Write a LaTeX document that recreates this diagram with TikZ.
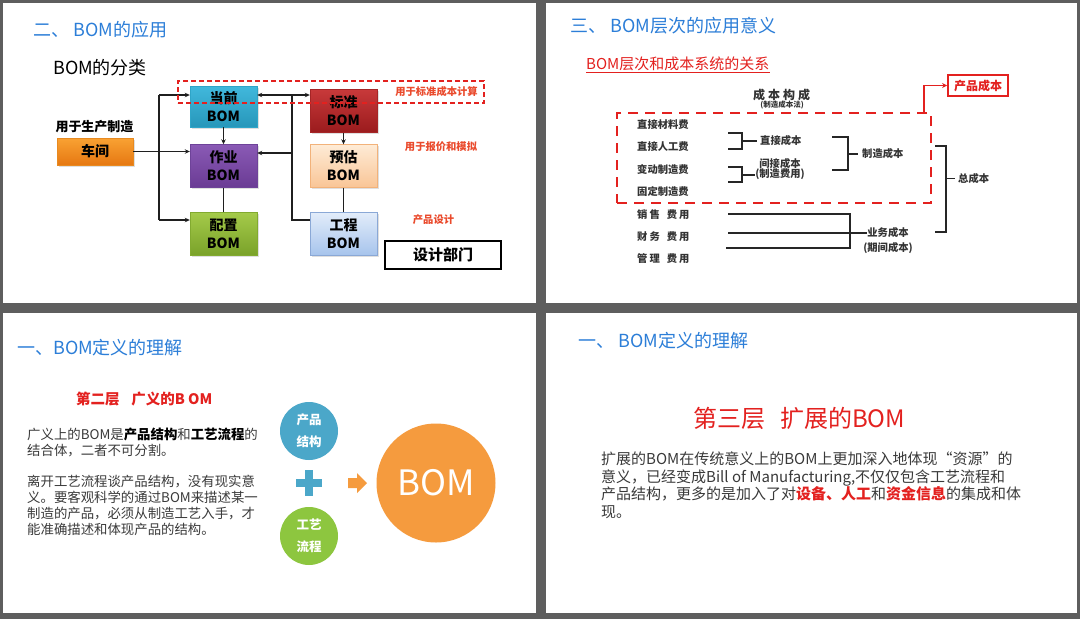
\documentclass[tikz,border=0pt]{standalone}
\usepackage{fontspec}
\setmainfont{Noto Sans CJK SC}
\usetikzlibrary{arrows.meta,shadows}
\newcommand\myfs[2]{\fontsize{#1}{#2}\selectfont}
\definecolor{bggray}{HTML}{5E5E5E}
\definecolor{titleblue}{HTML}{2C7ED8}
\definecolor{lblred}{HTML}{EA4A2C}
\definecolor{cred}{HTML}{E3211F}
\definecolor{txtgray}{HTML}{333333}
\definecolor{paragray}{HTML}{3A3A3A}
\definecolor{dqTop}{HTML}{41B8DC}\definecolor{dqBot}{HTML}{2797BA}\definecolor{dqBd}{HTML}{2FA5C8}
\definecolor{bzTop}{HTML}{C8393A}\definecolor{bzBot}{HTML}{9A1B1D}\definecolor{bzBd}{HTML}{A52526}
\definecolor{zyTop}{HTML}{8A5AB5}\definecolor{zyBot}{HTML}{6A3B94}\definecolor{zyBd}{HTML}{6E4399}
\definecolor{ygTop}{HTML}{FEEBD6}\definecolor{ygBot}{HTML}{F9C596}\definecolor{ygBd}{HTML}{F2B27A}
\definecolor{pzTop}{HTML}{A5CB4A}\definecolor{pzBot}{HTML}{7AA22A}\definecolor{pzBd}{HTML}{82AA30}
\definecolor{gcTop}{HTML}{E3EDFA}\definecolor{gcBot}{HTML}{A7C4EC}\definecolor{gcBd}{HTML}{8AA8D6}
\definecolor{cjTop}{HTML}{F9A233}\definecolor{cjBot}{HTML}{E67812}\definecolor{cjBd}{HTML}{E88A20}
\definecolor{cblue}{HTML}{4BA7C9}
\definecolor{cgreen}{HTML}{8DC63F}
\definecolor{corange}{HTML}{F59B3E}
\begin{document}
\begin{tikzpicture}[x=1pt,y=-1pt,
  slidetitle/.style={anchor=west,inner sep=0pt,text=titleblue,font=\myfs{18}{20}},
  bombox/.style={minimum width=67pt,minimum height=43pt,inner sep=0pt,align=center,
    font=\bfseries\myfs{14}{18},text=black,
    drop shadow={shadow xshift=1.5pt,shadow yshift=-1.5pt,opacity=0.25}},
  conn/.style={draw=black!88,line width=1.3pt},
  arr/.style={conn,-{Stealth[length=5pt,width=4.5pt]}},
  redlbl/.style={inner sep=0pt,text=lblred,font=\bfseries\myfs{10.3}{12}},
  cost/.style={inner sep=0pt,text=txtgray,font=\bfseries\myfs{10.3}{12}},
  brk/.style={draw=black!85,line width=1.2pt},
  para/.style={anchor=north west,inner sep=0pt,align=left,text=paragray},
]
\useasboundingbox (0,0) rectangle (1080,619);
\fill[bggray] (0,0) rectangle (1080,619);
\fill[white] (3,3) rectangle (536,303);
\fill[white] (546,3) rectangle (1077,303);
\fill[white] (3,313) rectangle (536,613);
\fill[white] (546,313) rectangle (1077,613);

% ---------------- slide 1 ----------------
\node[slidetitle] (t1) at (33,30) {二、 BOM的应用};
\node[anchor=west,inner sep=0pt,font=\myfs{18}{20}] (fl) at (53,68) {BOM的分类};

\node[bombox,minimum height=41pt,top color=dqTop,bottom color=dqBot,draw=dqBd] (dq) at (223.5,106.5) {当前\\BOM};
\node[bombox,top color=bzTop,bottom color=bzBot,draw=bzBd] (bz) at (343.5,111) {标准\\BOM};
\node[bombox,top color=zyTop,bottom color=zyBot,draw=zyBd] (zy) at (223.5,166) {作业\\BOM};
\node[bombox,top color=ygTop,bottom color=ygBot,draw=ygBd] (yg) at (343.5,166) {预估\\BOM};
\node[bombox,top color=pzTop,bottom color=pzBot,draw=pzBd] (pz) at (223.5,233.5) {配置\\BOM};
\node[bombox,top color=gcTop,bottom color=gcBot,draw=gcBd] (gc) at (343.5,233.5) {工程\\BOM};
\node[bombox,minimum width=76pt,minimum height=27pt,top color=cjTop,bottom color=cjBot,draw=cjBd] (cj) at (95,151.5) {车间};
\node[inner sep=0pt,font=\bfseries\myfs{13}{15}] (sc) at (94.5,127) {用于生产制造};

\coordinate (lb1) at (159,95);
\coordinate (lb2) at (159,220);
\coordinate (rb1) at (292,95);
\coordinate (rb2) at (292,220);
\coordinate (rb3) at (292,153);
\draw[conn] (lb1) -- (lb2);
\draw[arr] (lb1) -- (lb1 -| dq.west);
\draw[arr] (lb2) -- (lb2 -| pz.west);
\draw[arr] (cj.east) -- (cj.east -| zy.west);
\draw[arr] (dq.south) -- (zy.north);
\draw[conn] (zy.south) -- (pz.north);
\draw[conn] (rb1) -- (rb2) -- (rb2 -| gc.west);
\draw[arr] (rb1) -- (rb1 -| dq.east);
\draw[arr] (rb1) -- (rb1 -| bz.west);
\draw[arr] (rb3) -- (rb3 -| zy.east);
\draw[arr] (bz.south) -- (yg.north);
\draw[conn] (yg.south) -- (gc.north);

\node[draw=cred,line width=1.5pt,dash pattern=on 5pt off 3pt,minimum width=306pt,minimum height=22pt,inner sep=0pt] (stdbox) at (331,92) {};
\node[redlbl] (l1) at (436.5,92) {用于标准成本计算};
\node[redlbl] (l2) at (441,147) {用于报价和模拟};
\node[redlbl] (l3) at (433.5,220) {产品设计};
\node[draw=black,line width=2pt,minimum width=116pt,minimum height=28pt,inner sep=0pt,font=\bfseries\myfs{15}{17}] (sj) at (443,255) {设计部门};

% ---------------- slide 2 ----------------
\node[slidetitle] (t2) at (570,26) {三、 BOM层次的应用意义};
\node[anchor=west,inner sep=0pt,text=cred,font=\myfs{15}{17}] (rel) at (586,64) {BOM层次和成本系统的关系};
\draw[cred,line width=0.8pt] ([yshift=-1.5pt]rel.south west) -- ([yshift=-1.5pt]rel.south east);
\node[inner sep=0pt,text=txtgray,font=\bfseries\myfs{12}{14}] (cbgc) at (781.5,95) {成\hspace{3pt}本\hspace{3pt}构\hspace{3pt}成};
\node[inner sep=0pt,text=txtgray,font=\bfseries\myfs{7.5}{9}] (fa) at (782,104.5) {(制造成本法)};

\node[draw=cred,line width=2.6pt,dash pattern=on 10pt off 7pt,minimum width=314pt,minimum height=90pt,inner sep=0pt] (mfg) at (774,158) {};
\node[draw=cred,line width=1.8pt,minimum width=60pt,minimum height=21pt,inner sep=0pt,text=cred,font=\bfseries\myfs{12}{14}] (cp) at (978,85.5) {产品成本};
\draw[cred,line width=1.8pt,-{Stealth[length=5pt,width=5pt]}] (mfg.north east) ++(-8,0) |- (cp.west);

\node[cost,anchor=west] (c1) at (637,125) {直接材料费};
\node[cost,anchor=west] (c2) at (637,147) {直接人工费};
\node[cost,anchor=west] (c3) at (637,170) {变动制造费};
\node[cost,anchor=west] (c4) at (637,192) {固定制造费};
\node[cost,anchor=west] (c5) at (637,215) {销\hspace{2pt}售\hspace{7pt}费\hspace{2pt}用};
\node[cost,anchor=west] (c6) at (637,237) {财\hspace{2pt}务\hspace{7pt}费\hspace{2pt}用};
\node[cost,anchor=west] (c7) at (637,259) {管\hspace{2pt}理\hspace{7pt}费\hspace{2pt}用};

\node[cost,anchor=west,inner xsep=3pt] (zjcb) at (757,141) {直接成本};
\node[cost,align=center,font=\bfseries\myfs{10.3}{10}] (jjcb) at (780,169) {间接成本\\(制造费用)};
\node[cost,anchor=west,inner xsep=4pt] (zzcb) at (858,154) {制造成本};
\node[cost,anchor=west,inner xsep=3pt] (zcb) at (955,178.5) {总成本};
\node[cost] (yw1) at (888,233) {业务成本};
\node[cost] (yw2) at (888,248) {(期间成本)};

\coordinate (k1) at (742,141);
\coordinate (k2) at (742,175);
\coordinate (k3) at (848,154);
\coordinate (k4) at (946,178.5);
\draw[brk] (728,133) -- (742,133) -- (742,149) -- (728,149);
\draw[brk] (k1) -- (zjcb.west);
\draw[brk] (728,167) -- (742,167) -- (742,182) -- (728,182);
\draw[brk] (k2) -- (k2 -| jjcb.west);
\draw[brk] (832,137) -- (848,137) -- (848,170) -- (832,170);
\draw[brk] (k3) -- (zzcb.west);
\draw[brk] (935,146) -- (946,146) -- (946,232) -- (935,232);
\draw[brk] (k4) -- (zcb.west);

\coordinate (s1) at (728,214);
\coordinate (s2) at (728,233);
\coordinate (s3) at (726,248);
\coordinate (v1) at (850,214);
\coordinate (v3) at (850,248);
\draw[brk] (s1) -- (v1) -- (v3) -- (s3);
\draw[brk] (s2) -- (yw1.west);

% ---------------- slide 3 ----------------
\node[slidetitle] (t3) at (17,348) {一、BOM定义的理解};
\node[anchor=west,inner sep=0pt,text=cred,font=\bfseries\myfs{14.5}{16}] (h3) at (76,399) {第二层\hspace{0.8em}广义的B OM};
\node[para,font=\myfs{13.4}{16.5}] (p31) at (27,427.3) {广义上的BOM是\textbf{\color{black}产品结构}和\textbf{\color{black}工艺流程}的\\结合体，二者不可分割。};
\node[para,font=\myfs{13.4}{16}] (p32) at (27,475.3) {离开工艺流程谈产品结构，没有现实意\\义。要客观科学的通过BOM来描述某一\\制造的产品，必须从制造工艺入手，才\\能准确描述和体现产品的结构。};

\node[circle,fill=cblue,minimum size=58pt,inner sep=0pt,align=center,text=white,font=\bfseries\myfs{12.5}{22}] (cpjg) at (309,431) {产品\\结构};
\node[circle,fill=cgreen,minimum size=58pt,inner sep=0pt,align=center,text=white,font=\bfseries\myfs{12.5}{22}] (gylc) at (309,536) {工艺\\流程};
\fill[cblue] (296,479) rectangle (322,487);
\fill[cblue] (305,470) rectangle (313,496);
\fill[corange] (348,478) -- (357,478) -- (357,473) -- (367,483) -- (357,493) -- (357,488) -- (348,488) -- cycle;
\node[circle,fill=corange,minimum size=119pt,inner sep=0pt,text=white,font=\myfs{35}{40}] (bom) at (436,483) {BOM};

% ---------------- slide 4 ----------------
\node[slidetitle] (t4) at (578,341) {一、 BOM定义的理解};
\node[inner sep=0pt,text=cred,font=\myfs{24}{27}] (h4) at (799.5,418) {第三层\hspace{0.6em}扩展的BOM};
\node[para,font=\myfs{15}{17.7}] (p4) at (601,451.5) {扩展的BOM在传统意义上的BOM上更加深入地体现“资源”的\\意义，已经变成Bill of Manufacturing,不仅仅包含工艺流程和\\产品结构，更多的是加入了对{\color{cred}\bfseries 设备、人工}和{\color{cred}\bfseries 资金信息}的集成和体\\现。};
\end{tikzpicture}
\end{document}
